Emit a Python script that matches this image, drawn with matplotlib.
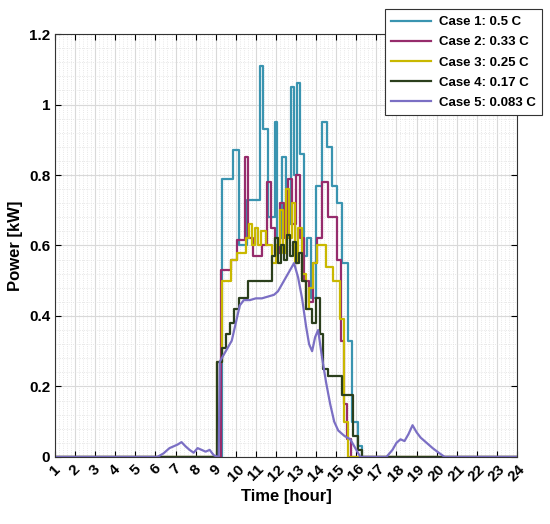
import matplotlib.pyplot as plt
from matplotlib.ticker import MultipleLocator

plt.rcParams['font.family'] = ['Liberation Sans', 'DejaVu Sans']

# Case 1: 0.5 C (step profile)
h1 = [1, 9.3, 9.85, 10.15, 10.55, 11.2, 11.35, 11.6, 11.95, 12.05, 12.3, 12.5, 12.75, 12.9,
      13.05, 13.2, 13.4, 13.55, 13.75, 14.0, 14.3, 14.55, 14.8, 15.05, 15.3, 15.6, 15.8, 16.1, 16.3, 24]
v1 = [0, 0.79, 0.87, 0.60, 0.73, 1.11, 0.93, 0.68, 0.95, 0.62, 0.85, 0.66, 1.05, 0.80,
      1.06, 0.86, 0.57, 0.62, 0.45, 0.77, 0.95, 0.88, 0.77, 0.72, 0.55, 0.33, 0.10, 0.03, 0, 0]

# Case 2: 0.33 C
h2 = [1, 9.25, 9.75, 10.05, 10.45, 10.6, 10.85, 11.3, 11.55, 11.75, 11.95, 12.2, 12.4, 12.6,
      12.8, 13.0, 13.2, 13.4, 13.65, 13.85, 14.05, 14.3, 14.6, 15.05, 15.25, 15.4, 15.55, 15.75, 24]
v2 = [0, 0.53, 0.56, 0.615, 0.85, 0.62, 0.57, 0.60, 0.78, 0.65, 0.58, 0.72, 0.62, 0.79,
      0.66, 0.80, 0.62, 0.50, 0.44, 0.55, 0.62, 0.78, 0.68, 0.56, 0.33, 0.15, 0.05, 0, 0]

# Case 3: 0.25 C
h3 = [1, 9.05, 9.3, 9.75, 10.05, 10.5, 10.65, 10.8, 10.95, 11.1, 11.25, 11.5, 11.8, 12.0,
      12.2, 12.35, 12.5, 12.65, 12.8, 12.95, 13.1, 13.3, 13.5, 13.65, 13.85, 14.05, 14.5,
      14.85, 15.2, 15.4, 15.6, 24]
v3 = [0, 0.27, 0.50, 0.56, 0.58, 0.62, 0.66, 0.60, 0.65, 0.60, 0.64, 0.60, 0.55, 0.60,
      0.70, 0.58, 0.76, 0.62, 0.72, 0.55, 0.65, 0.52, 0.42, 0.48, 0.55, 0.60, 0.54,
      0.50, 0.39, 0.10, 0, 0]

# Case 4: 0.17 C
h4 = [1, 9.05, 9.3, 9.5, 9.7, 9.9, 10.15, 10.6, 11.8, 11.95, 12.1, 12.25, 12.4, 12.55,
      12.7, 12.85, 13.0, 13.15, 13.3, 13.5, 13.8, 14.0, 14.2, 14.35, 14.6, 15.3, 15.85,
      16.1, 16.3, 24]
v4 = [0, 0.27, 0.31, 0.35, 0.38, 0.42, 0.45, 0.50, 0.57, 0.62, 0.55, 0.60, 0.56, 0.63,
      0.57, 0.61, 0.55, 0.58, 0.50, 0.42, 0.38, 0.45, 0.35, 0.25, 0.23, 0.175, 0.06,
      0.02, 0, 0]

# Case 5: 0.083 C (smooth)
h5 = [1, 6.1, 6.4, 6.7, 6.9, 7.1, 7.3, 7.5, 7.7, 7.9, 8.1, 8.3, 8.5, 8.7, 8.9, 9.1, 9.15,
      9.2, 9.4, 9.6, 9.8, 10.0, 10.2, 10.4, 10.7, 11.0, 11.3, 11.6, 11.9, 12.1, 12.3, 12.5,
      12.7, 12.9, 13.1, 13.3, 13.5, 13.65, 13.8, 13.95, 14.1, 14.3, 14.5, 14.7, 14.9, 15.1,
      15.4, 15.7, 15.9, 16.2, 17.5, 17.8, 18.0, 18.2, 18.4, 18.6, 18.8, 19.0, 19.2, 19.5,
      19.8, 20.1, 20.4, 24]
v5 = [0, 0, 0.01, 0.025, 0.03, 0.035, 0.042, 0.03, 0.02, 0.012, 0.025, 0.02, 0.015, 0.02,
      0.005, 0, 0, 0.27, 0.29, 0.31, 0.33, 0.38, 0.43, 0.445, 0.445, 0.45, 0.45, 0.455,
      0.46, 0.47, 0.49, 0.51, 0.53, 0.55, 0.51, 0.45, 0.37, 0.32, 0.30, 0.34, 0.36, 0.28,
      0.21, 0.15, 0.10, 0.075, 0.06, 0.05, 0.03, 0, 0, 0.02, 0.04, 0.05, 0.045, 0.065,
      0.09, 0.07, 0.055, 0.04, 0.025, 0.012, 0, 0]

labels = ['Case 1: 0.5 C', 'Case 2: 0.33 C', 'Case 3: 0.25 C', 'Case 4: 0.17 C', 'Case 5: 0.083 C']
colors = ['#3a94b0', '#962c6c', '#c9b800', '#2b3f1c', '#7b6fc4']

fig = plt.figure(figsize=(5.5, 5.24), dpi=100)
ax = fig.add_axes([0.1, 0.128, 0.84, 0.807])

ax.plot(h1, v1, drawstyle='steps-post', color=colors[0], lw=1.6, label=labels[0])
ax.plot(h2, v2, drawstyle='steps-post', color=colors[1], lw=1.6, label=labels[1])
ax.plot(h3, v3, drawstyle='steps-post', color=colors[2], lw=1.6, label=labels[2])
ax.plot(h4, v4, drawstyle='steps-post', color=colors[3], lw=1.6, label=labels[3])
ax.plot(h5, v5, color=colors[4], lw=1.6, label=labels[4])

ax.set_xlim(1, 24)
ax.set_ylim(0, 1.2)
ax.xaxis.set_major_locator(MultipleLocator(1))
ax.xaxis.set_minor_locator(MultipleLocator(0.2))
ax.yaxis.set_major_locator(MultipleLocator(0.2))
ax.yaxis.set_minor_locator(MultipleLocator(0.04))
ax.set_yticks([0, 0.2, 0.4, 0.6, 0.8, 1.0, 1.2])
ax.set_yticklabels(['0', '0.2', '0.4', '0.6', '0.8', '1', '1.2'])

ax.grid(which='major', color='#d9d9d9', lw=0.8)
ax.grid(which='minor', color='#e0e0e0', lw=0.6, linestyle=':')
ax.set_axisbelow(True)

ax.tick_params(which='major', direction='in', top=True, right=True, length=4, labelsize=11)
ax.tick_params(which='minor', length=0)
for lab in ax.get_xticklabels():
    lab.set_rotation(45)
    lab.set_fontweight('bold')
for lab in ax.get_yticklabels():
    lab.set_fontweight('bold')
for sp in ax.spines.values():
    sp.set_color('#333333')

ax.set_xlabel('Time [hour]', fontsize=12, fontweight='bold')
ax.set_ylabel('Power [kW]', fontsize=12, fontweight='bold')

leg = fig.legend(loc='upper right', bbox_to_anchor=(0.986, 0.982),
                 prop={'weight': 'bold', 'size': 9.5}, fancybox=False,
                 edgecolor='#333333', framealpha=1, handlelength=3.0,
                 handletextpad=0.6, labelspacing=0.6, borderpad=0.5,
                 borderaxespad=0.0)
leg.get_frame().set_linewidth(0.8)

fig.savefig('out.png', dpi=100)
